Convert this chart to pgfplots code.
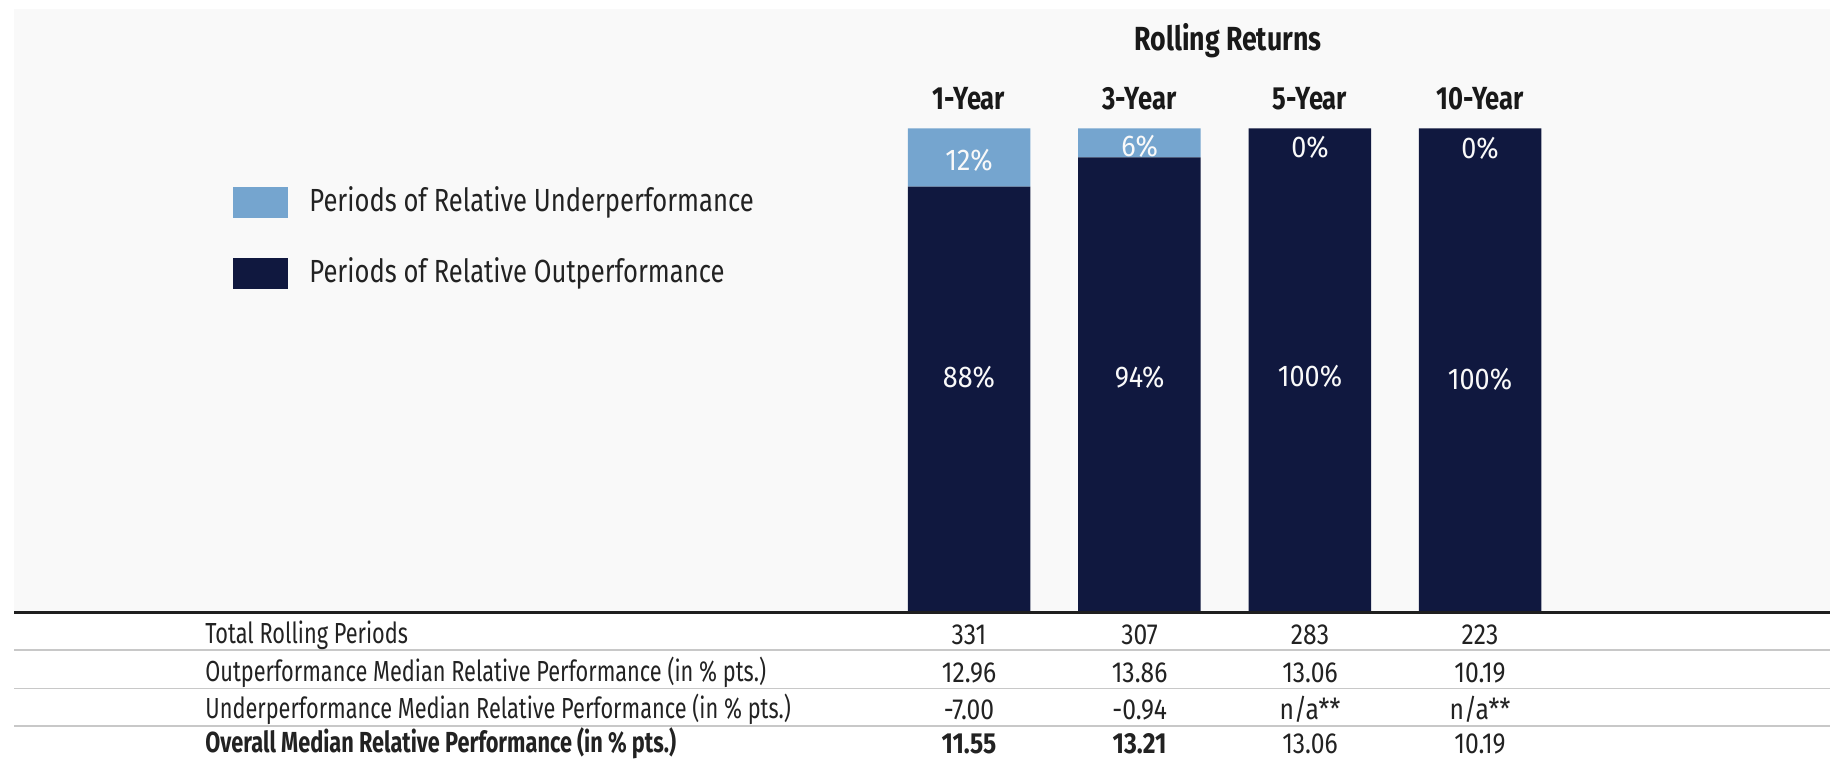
\documentclass[border=0pt]{standalone}
\usepackage{pgfplots}
\pgfplotsset{compat=1.18}
\usepackage{pgfplotstable}
\usepackage{fontspec}
\setmainfont{Fira Sans}[FakeStretch=0.75]
\newfontfamily\hdrfont{Fira Sans}[FakeStretch=0.8]
\newfontfamily\legfont{Fira Sans}[FakeStretch=0.8]
\newfontfamily\lblfont{Fira Sans}[FakeStretch=0.9]
\newfontfamily\numfont{Fira Sans}[FakeStretch=0.85]
\definecolor{underc}{HTML}{75A5CF}
\definecolor{outc}{HTML}{10183F}
\definecolor{bgc}{HTML}{F9F9F9}
\definecolor{txtc}{HTML}{222222}
\definecolor{sepc}{HTML}{C8C8C8}
\tikzset{barlbl/.style={text=white!95!gray, font=\lblfont\fontsize{15}{18}\selectfont}}

\pgfplotstableread{
x out under
0 88 12
1 94 6
2 100 0
3 100 0
}\bardata

\begin{document}
\begin{tikzpicture}
\begin{scope}[x=0.5pt,y=-0.5pt]
\fill[white] (0,0) rectangle (1830,760);
\fill[bgc] (14,9) rectangle (1830,612.7);
\end{scope}
\begin{axis}[at={(441.9pt,-306.35pt)}, anchor=south west, scale only axis,
  width=340.8pt, height=242.15pt, xmin=-0.5, xmax=3.5, ymin=0, ymax=100,
  hide axis, ybar stacked, bar width=61.25pt, clip=false]
\addplot[fill=outc, draw=none] table[x=x,y=out]{\bardata};
\addplot[fill=underc, draw=none] table[x=x,y=under]{\bardata};
\end{axis}
\begin{scope}[x=0.5pt,y=-0.5pt]
% bar labels
\node[barlbl] at (969,377) {88\%};
\node[barlbl] at (1139.6,377) {94\%};
\node[barlbl] at (1310,376) {100\%};
\node[barlbl] at (1480,379) {100\%};
\node[barlbl] at (969,160) {12\%};
\node[barlbl] at (1139.6,146) {6\%};
\node[barlbl] at (1310,147) {0\%};
\node[barlbl] at (1480,148) {0\%};
% baseline and separators
\draw[line width=1.75pt, color=black!88] (14,612.7) -- (1830,612.7);
\foreach \yy in {650,688.5,726} \draw[line width=0.7pt, sepc] (14,\yy) -- (1830,\yy);
% title and headers
\node[font=\hdrfont\bfseries\fontsize{16.7}{20}\selectfont, text=black!90] at (1228,41) {Rolling Returns};
\node[font=\hdrfont\bfseries\fontsize{16}{19}\selectfont, text=black!90] at (969,99) {1-Year};
\node[font=\hdrfont\bfseries\fontsize{16}{19}\selectfont, text=black!90] at (1139.6,99) {3-Year};
\node[font=\hdrfont\bfseries\fontsize{16}{19}\selectfont, text=black!90] at (1310,99) {5-Year};
\node[font=\hdrfont\bfseries\fontsize{16}{19}\selectfont, text=black!90] at (1480,99) {10-Year};
% legend
\fill[underc] (233,187) rectangle (288,218);
\fill[outc] (233,258) rectangle (288,289);
\node[anchor=west, font=\legfont\fontsize{16}{19}\selectfont, text=txtc, inner sep=0pt] at (309,202) {Periods of Relative Underperformance};
\node[anchor=west, font=\legfont\fontsize{16}{19}\selectfont, text=txtc, inner sep=0pt] at (309,273) {Periods of Relative Outperformance};
% table
\tikzset{tbl/.style={font=\fontsize{14.5}{17}\selectfont, text=txtc, inner sep=0pt},
         tblb/.style={font=\bfseries\fontsize{14.5}{17}\selectfont, text=txtc, inner sep=0pt},
         num/.style={font=\numfont\fontsize{14.5}{17}\selectfont, text=txtc, inner sep=0pt},
         numb/.style={font=\numfont\bfseries\fontsize{14.5}{17}\selectfont, text=txtc, inner sep=0pt}}
\node[tbl, anchor=west] at (205,635) {Total Rolling Periods};
\node[tbl, anchor=west] at (205,672.5) {Outperformance Median Relative Performance (in \% pts.)};
\node[tbl, anchor=west] at (205,709.5) {Underperformance Median Relative Performance (in \% pts.)};
\node[tblb, anchor=west] at (205,743.5) {Overall Median Relative Performance (in \% pts.)};
\node[num] at (969,635) {331};
\node[num] at (1139.6,635) {307};
\node[num] at (1310,635) {283};
\node[num] at (1480,635) {223};
\node[num] at (969,672.5) {12.96};
\node[num] at (1139.6,672.5) {13.86};
\node[num] at (1310,672.5) {13.06};
\node[num] at (1480,672.5) {10.19};
\node[num] at (969,709.5) {-7.00};
\node[num] at (1139.6,709.5) {-0.94};
\node[num] at (1310,709.5) {n/a**};
\node[num] at (1480,709.5) {n/a**};
\node[numb] at (969,743.5) {11.55};
\node[numb] at (1139.6,743.5) {13.21};
\node[num] at (1310,743.5) {13.06};
\node[num] at (1480,743.5) {10.19};
\end{scope}
\pgfresetboundingbox
\path[use as bounding box] (0pt,0pt) rectangle (915pt,-380pt);
\end{tikzpicture}
\end{document}
